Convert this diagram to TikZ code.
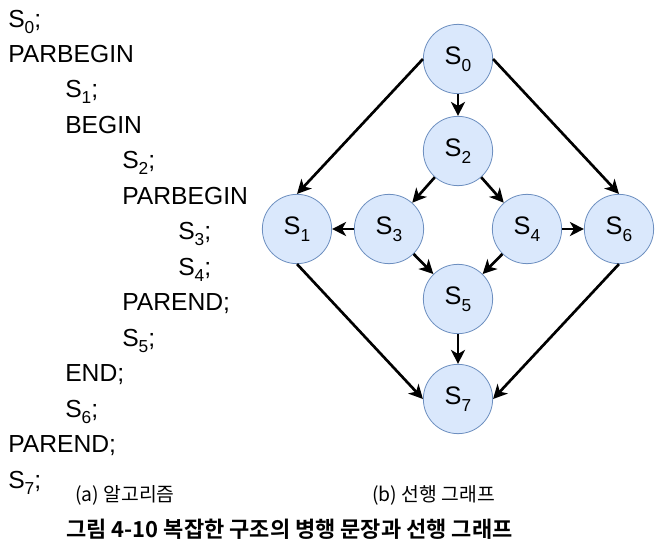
\documentclass[tikz,border=0pt]{standalone}
\usepackage{fontspec}
\setmainfont{Liberation Sans}
\newfontfamily\kr{Noto Sans CJK KR}
\newfontfamily\krb{Noto Sans CJK KR Bold}
\usetikzlibrary{arrows.meta}
\newcommand{\sbx}[1]{\raisebox{-0.26em}{\fontsize{13}{14}\selectfont #1}}
\definecolor{nodefill}{HTML}{DAE8FC}
\definecolor{nodedraw}{HTML}{6C8EBF}
\tikzset{
  proc/.style={circle, draw=nodedraw, fill=nodefill, line width=0.6pt, minimum size=52pt, inner sep=0pt, font=\fontsize{19}{20}\selectfont},
  arrowedge/.style={line width=2pt, -{Stealth[length=10.5pt,width=10.5pt,inset=3pt]}},
  codetext/.style={anchor=base west, inner sep=0pt, font=\fontsize{18.5}{20}\selectfont},
  captext/.style={anchor=base west, inner sep=0pt}
}
\begin{document}
\begin{tikzpicture}[x=0.75pt,y=-0.75pt]
\useasboundingbox (0,0) rectangle (658,553);
% code
\node[codetext] (c0) at (8,27) {S\sbx{0};};
\node[codetext] (c1) at (8,62) {PARBEGIN};
\node[codetext] (c2) at (65,97.5) {S\sbx{1};};
\node[codetext] (c3) at (65,133) {BEGIN};
\node[codetext] (c4) at (122,168.5) {S\sbx{2};};
\node[codetext] (c5) at (122,204) {PARBEGIN};
\node[codetext] (c6) at (178,239.5) {S\sbx{3};};
\node[codetext] (c7) at (178,275) {S\sbx{4};};
\node[codetext] (c8) at (122,310.5) {PAREND;};
\node[codetext] (c9) at (122,346) {S\sbx{5};};
\node[codetext] (c10) at (65,381.5) {END;};
\node[codetext] (c11) at (65,417) {S\sbx{6};};
\node[codetext] (c12) at (8,452.5) {PAREND;};
\node[codetext] (c13) at (8,488) {S\sbx{7};};
% graph
\node[proc] (s0) at (458,59) {S\sbx{0}};
\node[proc] (s2) at (458,151) {S\sbx{2}};
\node[proc] (s1) at (297,229) {S\sbx{1}};
\node[proc] (s3) at (389,229) {S\sbx{3}};
\node[proc] (s4) at (527,229) {S\sbx{4}};
\node[proc] (s6) at (619,229) {S\sbx{6}};
\node[proc] (s5) at (458,299) {S\sbx{5}};
\node[proc] (s7) at (458,399) {S\sbx{7}};
\draw[arrowedge] (s0) -- (s2);
\draw[arrowedge] (s0.west) -- (s1.north);
\draw[arrowedge] (s0.east) -- (s6.north);
\draw[arrowedge] (s2) -- (s3);
\draw[arrowedge] (s2) -- (s4);
\draw[arrowedge] (s3) -- (s1);
\draw[arrowedge] (s4) -- (s6);
\draw[arrowedge] (s3) -- (s5);
\draw[arrowedge] (s4) -- (s5);
\draw[arrowedge] (s5) -- (s7);
\draw[arrowedge] (s1.south) -- (s7.west);
\draw[arrowedge] (s6.south) -- (s7.east);
% captions
\node[captext, font=\kr\fontsize{14.5}{16}\selectfont] (ca) at (75,501) {(a) 알고리즘};
\node[captext, font=\kr\fontsize{14.5}{16}\selectfont] (cb) at (372,501) {(b) 선행 그래프};
\node[captext, font=\krb\fontsize{16.5}{18}\selectfont] (cc) at (66,537) {그림 4-10 복잡한 구조의 병행 문장과 선행 그래프};
\end{tikzpicture}
\end{document}
